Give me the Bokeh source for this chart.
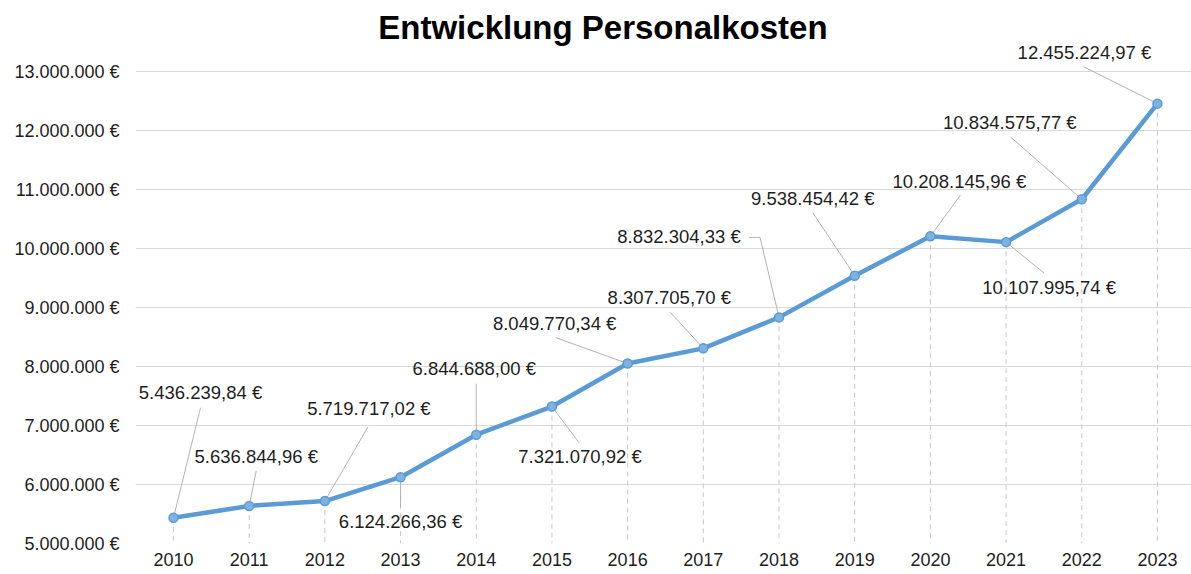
from bokeh.plotting import figure
from bokeh.models import ColumnDataSource, FixedTicker, Range1d
from bokeh.core.properties import value
from bokeh.embed import file_html
from bokeh.resources import INLINE

# ---------------- data ----------------
title_text = "Entwicklung  Personalkosten"
years = [2010, 2011, 2012, 2013, 2014, 2015, 2016, 2017, 2018, 2019, 2020, 2021, 2022, 2023]
costs = [5436239.84, 5636844.96, 5719717.02, 6124266.36, 6844688.00, 7321070.92,
         8049770.34, 8307705.70, 8832304.33, 9538454.42, 10208145.96, 10107995.74,
         10834575.77, 12455224.97]
y_ticks = [5000000, 6000000, 7000000, 8000000, 9000000, 10000000, 11000000, 12000000, 13000000]
y_tick_labels = ["5.000.000 €", "6.000.000 €", "7.000.000 €", "8.000.000 €", "9.000.000 €",
                 "10.000.000 €", "11.000.000 €", "12.000.000 €", "13.000.000 €"]


def de_eur(v):
    s = f"{v:,.2f}".replace(",", "X").replace(".", ",").replace("X", ".")
    return s + " €"


point_labels = [de_eur(v) for v in costs]

# ---------------- layout (pixels) ----------------
W, H = 1191, 574
B_LEFT, B_BOTTOM = 135, 31
FRAME_W = W - B_LEFT
FRAME_H = H - B_BOTTOM
SX = 75.69                     # px per category step
X0 = -38 / SX
X1 = X0 + FRAME_W / SX
PX_PER_EURO = 59e-6
Y0 = y_ticks[0]
Y1 = Y0 + FRAME_H / PX_PER_EURO
SY = PX_PER_EURO

# label offsets relative to each point (px, screen y downwards)
label_off = [(27, -124), (7, -48), (44, -92), (0, 45), (-2, -65), (28, 51), (-73, -39),
             (-34, -50), (-100, -80), (-42, -76), (29, -54), (43, 46), (-72, -76), (-73, -50)]
leader_off = [
    [(27, -110), (0, 0)],
    [(7, -35), (0, 0)],
    [(43, -74), (0, 0)],
    [(0, 0), (0, 30)],
    [(0, -51), (0, 0)],
    [(0, 0), (27, 36)],
    [(-72, -26), (0, 0)],
    [(-33, -36), (0, 0)],
    [(-30, -80), (-19, -80), (0, 0)],
    [(-42, -63), (0, 0)],
    [(30, -41), (0, 0)],
    [(0, 0), (38, 31)],
    [(-71, -62), (0, 0)],
    [(-74, -37), (0, 0)],
]

xs = list(range(len(years)))

p = figure(width=W, height=H, output_backend="svg", toolbar_location=None,
           x_range=Range1d(X0, X1), y_range=Range1d(Y0, Y1),
           min_border_left=B_LEFT, min_border_right=0, min_border_top=0,
           min_border_bottom=B_BOTTOM, background_fill_color="white",
           border_fill_color="white", outline_line_color=None)

# axes
p.xaxis.ticker = FixedTicker(ticks=xs)
p.xaxis.major_label_overrides = {i: str(y) for i, y in zip(xs, years)}
p.yaxis.ticker = FixedTicker(ticks=y_ticks)
p.yaxis.major_label_overrides = {t: l for t, l in zip(y_ticks, y_tick_labels)}
for ax in (p.xaxis, p.yaxis):
    ax.axis_line_color = None
    ax.major_tick_line_color = None
    ax.minor_tick_line_color = None
    ax.major_tick_in = 0
    ax.major_tick_out = 0
    ax.major_label_text_font = "Liberation Sans"
    ax.major_label_text_font_size = "18px"
    ax.major_label_text_color = "#1e1e1e"
p.yaxis.major_label_standoff = 16
p.xaxis.major_label_standoff = 9

p.xgrid.grid_line_color = None
p.ygrid.ticker = FixedTicker(ticks=y_ticks)
p.ygrid.grid_line_color = "#d9d9d9"
p.ygrid.grid_line_width = 1

# drop lines
p.segment(x0=xs, y0=costs, x1=xs, y1=[Y0] * len(xs), line_color="#c8c8c8",
          line_width=1, line_dash="5 4")

# leader lines
lx, ly = [], []
for x, v, pts in zip(xs, costs, leader_off):
    lx.append([x + dx / SX for dx, dy in pts])
    ly.append([v - dy / SY for dx, dy in pts])
p.multi_line(xs=lx, ys=ly, line_color="#b3b3b3", line_width=1)

# main line + markers
p.line(xs, costs, line_color="#5b9bd5", line_width=4.5, line_join="round")
p.scatter(xs, costs, size=9, fill_color="#7eb2e0", line_color="#5b9bd5", line_width=1.5)

# data labels
src = ColumnDataSource(dict(
    x=[x + o[0] / SX for x, o in zip(xs, label_off)],
    y=[v - (o[1] - 1) / SY for v, o in zip(costs, label_off)],
    t=point_labels,
))
p.text(x="x", y="y", text="t", source=src, text_font=value("Liberation Sans"),
       text_font_size="18.5px", text_color="#1e1e1e", text_align="center",
       text_baseline="middle")

# title
tx = X0 + (607 - B_LEFT) / SX
ty = Y1 - 27 / SY
p.text(x=[tx], y=[ty], text=[title_text], text_font=value("Liberation Sans"),
       text_font_size="33px", text_font_style="bold", text_color="#000000",
       text_align="center", text_baseline="middle")

open("out.html", "w").write(file_html(p, INLINE))
